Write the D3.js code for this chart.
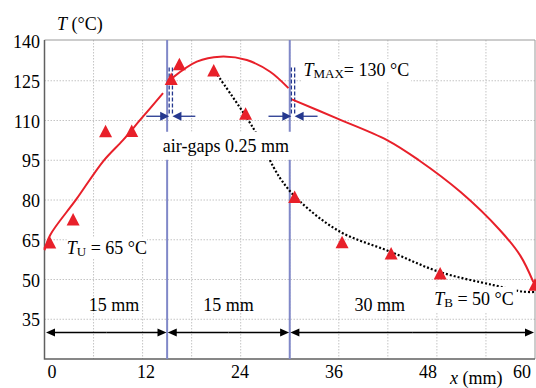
<!DOCTYPE html>
<html>
<head>
<meta charset="utf-8">
<script src="https://cdn.jsdelivr.net/npm/d3@7"></script>
<style>
  body { margin: 0; background: #fff; }
  svg { display: block; font-family: "Liberation Serif", "Times New Roman", serif; }
</style>
</head>
<body>
<div id="chart"></div>
<script>
// measured values (x in mm, T in °C)
const xTicks = [0, 12, 24, 36, 48, 60];
const yTicks = [35, 50, 65, 80, 95, 110, 125, 140];
const xGrid = [6, 12, 18, 24, 30, 36, 42, 48, 54];
const yGrid = [35, 50, 65, 80, 95, 110, 125];

const measured = [
  [0.64, 63.4], [3.5, 72.1], [7.47, 105.4], [10.67, 105.5], [15.5, 125.1],
  [16.5, 130.7], [20.7, 128.3], [24.6, 112], [30.6, 80.6], [36.4, 63.5],
  [42.4, 59.2], [48.4, 51.7], [60, 47.5]
];

// model curve, three layers
const modelSeg1 = [[0, 61], [0.7, 66.8], [3.9, 80.3], [7.2, 94.7], [9.6, 102.6], [11.7, 110.2], [14.5, 120.3]];
const modelSeg2 = [[15.57, 125.9], [18.63, 132.2], [21.48, 134.1], [24.75, 132.8], [27.6, 128.4], [29.84, 122.2]];
const modelSeg3 = [[30.26, 118], [35.77, 110.8], [41.9, 102.6], [45.75, 95.1], [50.9, 83], [55.75, 68.5], [58.2, 59], [59.8, 49]];

// trend through the measurements
const trend = [[20.87, 128.4], [25.52, 107.2], [28.83, 88.2], [31.27, 79.4], [36.17, 68], [42.3, 60.5],
  [48.28, 52.9], [54.89, 47.9], [58.56, 45.4], [60, 45.3]];

const layerBounds = [15, 30];
const airGaps = [[15.25, 15.65], [30.2, 30.6]];
const gapSpan = [112, 130];
const gapArrowT = 111.6;
const dimT = 30;
const dimStops = [0, 15, 30, 60];
const dimLabels = [{ text: '15 mm', x: 8.5 }, { text: '15 mm', x: 22.5 }, { text: '30 mm', x: 41 }];

const W = 536, H = 388;
const red = '#e8202a', lav = '#8088c8', navy = '#25388f';

const svg = d3.select('#chart').append('svg')
  .attr('width', W).attr('height', H);

const x = d3.scaleLinear().domain([0, 60]).range([44.5, 535]);
const y = d3.scaleLinear().domain([20, 140]).range([359, 41]);
const xLab = d3.scaleLinear().domain([0, 60]).range([52, 522]);

const pTop = 40, pBottom = 359, pLeft = 44.5, pRight = 535;

// grid
svg.append('g').selectAll('line').data(yGrid).enter().append('line')
  .attr('x1', pLeft).attr('x2', pRight)
  .attr('y1', d => y(d)).attr('y2', d => y(d))
  .attr('stroke', '#c4c4c4').attr('stroke-dasharray', '1.5,1.5');
svg.append('g').selectAll('line').data(xGrid).enter().append('line')
  .attr('x1', d => x(d)).attr('x2', d => x(d))
  .attr('y1', pTop).attr('y2', pBottom)
  .attr('stroke', '#c4c4c4').attr('stroke-dasharray', '1.5,1.5');

// frame
svg.append('path')
  .attr('d', `M${pLeft},${pTop}H${pRight}V${pBottom}`)
  .attr('fill', 'none').attr('stroke', '#9a9a9a').attr('stroke-width', 1);
svg.append('path')
  .attr('d', `M${pLeft},${pTop}V${pBottom}H${pRight}`)
  .attr('fill', 'none').attr('stroke', '#606060').attr('stroke-width', 1.5);

// layer boundaries
svg.append('g').selectAll('line').data(layerBounds).enter().append('line')
  .attr('x1', d => x(d)).attr('x2', d => x(d))
  .attr('y1', pTop).attr('y2', pBottom)
  .attr('stroke', lav).attr('stroke-width', 2);

// air gap dashes
airGaps.forEach(g => {
  svg.append('g').selectAll('line').data(g).enter().append('line')
    .attr('x1', d => x(d)).attr('x2', d => x(d))
    .attr('y1', y(gapSpan[1])).attr('y2', y(gapSpan[0]))
    .attr('stroke', navy).attr('stroke-width', 1.3).attr('stroke-dasharray', '4,2');
});

function arrow(g, x0, x1, yy, color, len, hw) {
  const dir = Math.sign(x1 - x0);
  g.append('line').attr('x1', x0).attr('x2', x1 - dir * len * 0.5)
    .attr('y1', yy).attr('y2', yy).attr('stroke', color).attr('stroke-width', 1.3);
  g.append('path')
    .attr('d', `M${x1},${yy}L${x1 - dir * len},${yy - hw}L${x1 - dir * len},${yy + hw}Z`)
    .attr('fill', color);
}

// air gap arrows
const ga = svg.append('g');
airGaps.forEach(g => {
  arrow(ga, x(g[0] - 2.8), x(g[0]), y(gapArrowT), navy, 9, 4.5);
  arrow(ga, x(g[1] + 2.8), x(g[1]), y(gapArrowT), navy, 9, 4.5);
});

// model curve
const line = d3.line().x(d => x(d[0])).y(d => y(d[1])).curve(d3.curveCatmullRom);
[modelSeg1, modelSeg2, modelSeg3].forEach(seg => {
  svg.append('path').attr('d', line(seg))
    .attr('fill', 'none').attr('stroke', red).attr('stroke-width', 2);
});

// trend
svg.append('path').attr('d', line(trend))
  .attr('fill', 'none').attr('stroke', '#000').attr('stroke-width', 2.2)
  .attr('stroke-dasharray', '2,2');

// triangles
svg.append('g').selectAll('path').data(measured).enter().append('path')
  .attr('d', d => {
    const cx = x(d[0]), cy = y(d[1]);
    return `M${cx},${cy - 8}L${cx + 6.5},${cy + 4.5}L${cx - 6.5},${cy + 4.5}Z`;
  })
  .attr('fill', red);

// dimension line
const dg = svg.append('g');
for (let i = 0; i < dimStops.length - 1; i++) {
  const a = x(dimStops[i]) + (i === 0 ? 1.5 : 0.6);
  const b = x(dimStops[i + 1]) - (i === dimStops.length - 2 ? 1 : 0.6);
  const m = (a + b) / 2;
  arrow(dg, m, a, y(dimT), '#000', 9, 4);
  arrow(dg, m, b, y(dimT), '#000', 9, 4);
}
svg.append('g').selectAll('text').data(dimLabels).enter().append('text')
  .attr('x', d => x(d.x)).attr('y', y(38.1))
  .attr('text-anchor', 'middle').attr('font-size', 18).text(d => d.text);

// labels with white boxes
function boxedLabel(px, py, parts, padX, padY) {
  const g = svg.append('g');
  const rect = g.append('rect').attr('fill', '#fff');
  const t = g.append('text').attr('x', px).attr('y', py).attr('font-size', 18);
  parts.forEach(p => {
    const s = t.append('tspan').text(p.t);
    if (p.i) s.attr('font-style', 'italic');
    if (p.sub) s.attr('font-size', 13).attr('dy', 2);
    if (p.back) s.attr('dy', -2);
  });
  const bb = t.node().getBBox();
  rect.attr('x', bb.x - padX).attr('y', bb.y - padY)
    .attr('width', bb.width + 2 * padX).attr('height', bb.height + 2 * padY);
  return g;
}

boxedLabel(x(14.47), y(98.2), [{ t: 'air-gaps 0.25 mm' }], 4, 4);
boxedLabel(x(31.68), y(126.8), [{ t: 'T', i: true }, { t: 'MAX', sub: true }, { t: '= 130 °C', back: true }], 2, 1);
boxedLabel(x(47.67), y(40.4), [{ t: 'T', i: true }, { t: 'B', sub: true }, { t: ' = 50 °C', back: true }], 3, 2);
boxedLabel(x(2.72), y(59.6), [{ t: 'T', i: true }, { t: 'U', sub: true }, { t: ' = 65 °C', back: true }], 0, 0);

// axis tick labels
svg.append('g').selectAll('text').data(yTicks).enter().append('text')
  .attr('x', 40).attr('y', d => y(d) + 7)
  .attr('text-anchor', 'end').attr('font-size', 18).text(d => d);
svg.append('g').selectAll('text').data(xTicks).enter().append('text')
  .attr('x', d => xLab(d)).attr('y', 378)
  .attr('text-anchor', 'middle').attr('font-size', 18).text(d => d);

// axis titles
const yt = svg.append('text').attr('x', 57).attr('y', 30).attr('font-size', 18);
yt.append('tspan').attr('font-style', 'italic').text('T');
yt.append('tspan').text(' (°C)');
const xt = svg.append('text').attr('x', 450).attr('y', 384).attr('font-size', 18);
xt.append('tspan').attr('font-style', 'italic').text('x');
xt.append('tspan').text(' (mm)');
</script>
</body>
</html>
